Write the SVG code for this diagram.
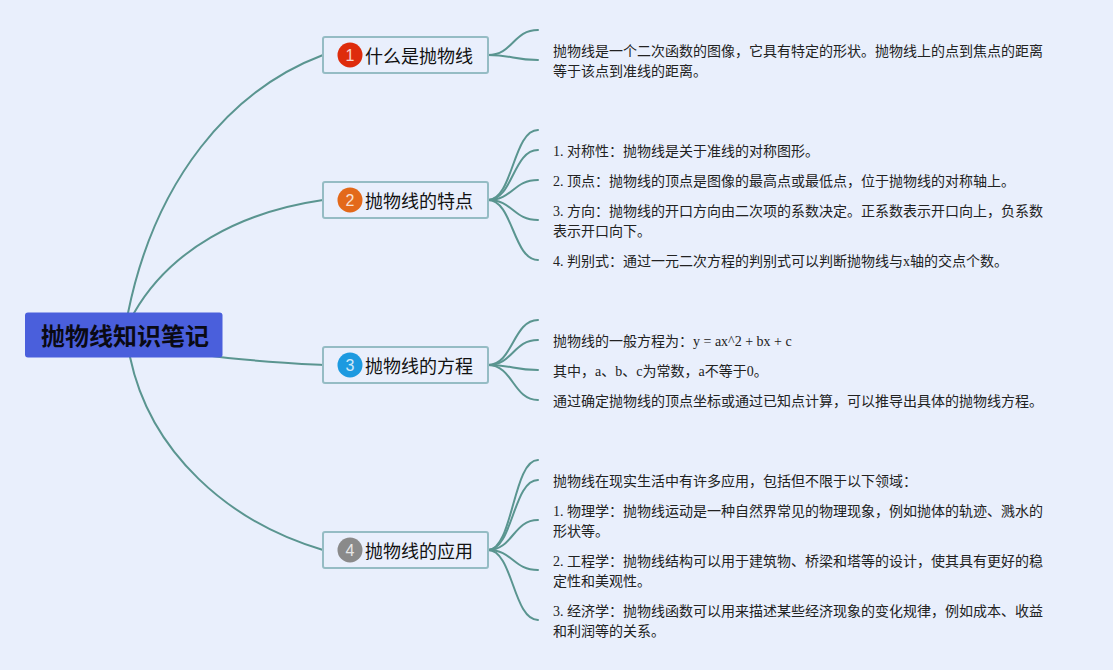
<svg xmlns="http://www.w3.org/2000/svg" width="1113" height="670" viewBox="0 0 1113 670">
<style>
.c{fill:none;stroke:#5a9590;stroke-width:2;stroke-linecap:round}
.t{fill:#e9effc;stroke:#95bcc4;stroke-width:2}
.tl{font:18px "Liberation Sans","Noto Sans CJK SC",sans-serif;fill:#111}
.b{font:14px "Liberation Serif","Noto Sans CJK SC",sans-serif;fill:#222}
.n{font:16px "Liberation Sans",sans-serif;fill:#fff;text-anchor:middle;opacity:.8}
</style>
<rect width="1113" height="670" fill="#e9effc"/>
<g id="connectors">
<path class="c" d="M128 313C155 180 230 90 323 55"/>
<path class="c" d="M134 313C170 250 240 212 323 200"/>
<path class="c" d="M205 355C245 361 285 363 323 365"/>
<path class="c" d="M130 357C150 452 228 522 323 550"/>
<path class="c" d="M488 55C513 55 513 30 538 30"/>
<path class="c" d="M488 55C513 55 513 60 538 60"/>
<path class="c" d="M488 200C513 200 513 130 538 130"/>
<path class="c" d="M488 200C513 200 513 150 538 150"/>
<path class="c" d="M488 200C513 200 513 180 538 180"/>
<path class="c" d="M488 200C513 200 513 220 538 220"/>
<path class="c" d="M488 200C513 200 513 260 538 260"/>
<path class="c" d="M488 365C513 365 513 320 538 320"/>
<path class="c" d="M488 365C513 365 513 340 538 340"/>
<path class="c" d="M488 365C513 365 513 370 538 370"/>
<path class="c" d="M488 365C513 365 513 400 538 400"/>
<path class="c" d="M488 550C513 550 513 460 538 460"/>
<path class="c" d="M488 550C513 550 513 480 538 480"/>
<path class="c" d="M488 550C513 550 513 520 538 520"/>
<path class="c" d="M488 550C513 550 513 570 538 570"/>
<path class="c" d="M488 550C513 550 513 620 538 620"/>
</g>
<g id="root">
<rect x="25" y="312.500" width="197.500" height="45" rx="3" fill="#4a5fdc"/>
<text x="125" y="345" text-anchor="middle" style="font:bold 24px 'Liberation Sans','Noto Sans CJK SC',sans-serif;fill:#0a0a14">抛物线知识笔记</text>
</g>
<g id="topic1">
<rect class="t" x="323" y="37" width="165" height="36" rx="2"/>
<circle cx="350" cy="55" r="12.500" fill="#de2c0c"/>
<text class="n" x="350" y="61">1</text>
<text class="tl" x="365" y="62.500">什么是抛物线</text>
</g>
<g id="topic2">
<rect class="t" x="323" y="182" width="165" height="36" rx="2"/>
<circle cx="350" cy="200" r="12.500" fill="#e3691a"/>
<text class="n" x="350" y="206">2</text>
<text class="tl" x="365" y="207.500">抛物线的特点</text>
</g>
<g id="topic3">
<rect class="t" x="323" y="347" width="165" height="36" rx="2"/>
<circle cx="350" cy="365" r="12.500" fill="#1c9ae0"/>
<text class="n" x="350" y="371">3</text>
<text class="tl" x="365" y="372.500">抛物线的方程</text>
</g>
<g id="topic4">
<rect class="t" x="323" y="532" width="165" height="36" rx="2"/>
<circle cx="350" cy="550" r="12.500" fill="#8a8a8a"/>
<text class="n" x="350" y="556">4</text>
<text class="tl" x="365" y="557.500">抛物线的应用</text>
</g>
<g id="details1">
<text class="b" x="553" y="56">抛物线是一个二次函数的图像，它具有特定的形状。抛物线上的点到焦点的距离</text>
<text class="b" x="553" y="76">等于该点到准线的距离。</text>
</g>
<g id="details2">
<text class="b" x="553" y="156">1. 对称性：抛物线是关于准线的对称图形。</text>
<text class="b" x="553" y="186">2. 顶点：抛物线的顶点是图像的最高点或最低点，位于抛物线的对称轴上。</text>
<text class="b" x="553" y="216">3. 方向：抛物线的开口方向由二次项的系数决定。正系数表示开口向上，负系数</text>
<text class="b" x="553" y="236">表示开口向下。</text>
<text class="b" x="553" y="266">4. 判别式：通过一元二次方程的判别式可以判断抛物线与x轴的交点个数。</text>
</g>
<g id="details3">
<text class="b" x="553" y="346">抛物线的一般方程为：y = ax^2 + bx + c</text>
<text class="b" x="553" y="376">其中，a、b、c为常数，a不等于0。</text>
<text class="b" x="553" y="406">通过确定抛物线的顶点坐标或通过已知点计算，可以推导出具体的抛物线方程。</text>
</g>
<g id="details4">
<text class="b" x="553" y="486">抛物线在现实生活中有许多应用，包括但不限于以下领域：</text>
<text class="b" x="553" y="516">1. 物理学：抛物线运动是一种自然界常见的物理现象，例如抛体的轨迹、溅水的</text>
<text class="b" x="553" y="536">形状等。</text>
<text class="b" x="553" y="566">2. 工程学：抛物线结构可以用于建筑物、桥梁和塔等的设计，使其具有更好的稳</text>
<text class="b" x="553" y="586">定性和美观性。</text>
<text class="b" x="553" y="616">3. 经济学：抛物线函数可以用来描述某些经济现象的变化规律，例如成本、收益</text>
<text class="b" x="553" y="636">和利润等的关系。</text>
</g>
</svg>
